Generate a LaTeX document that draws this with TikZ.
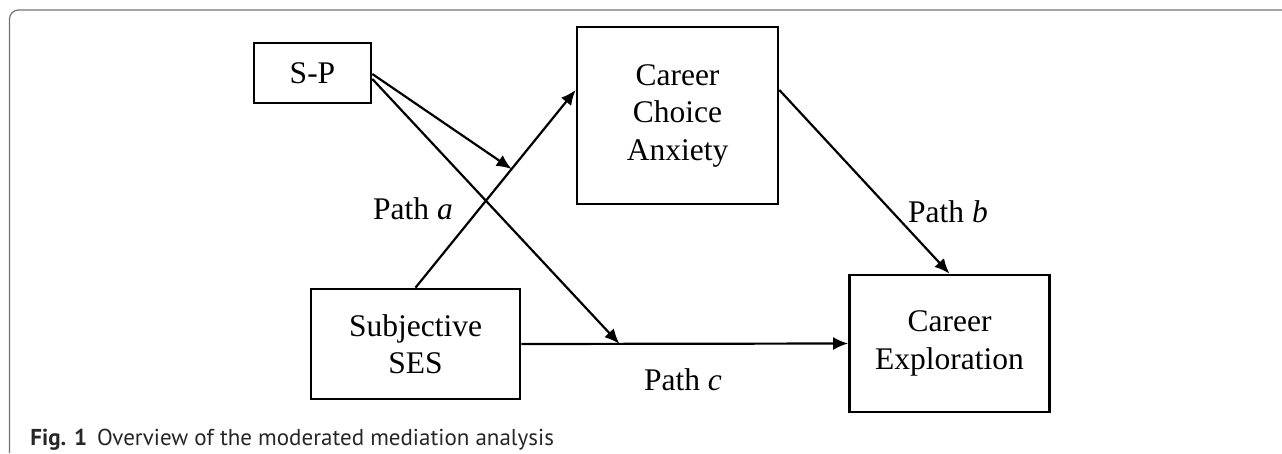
\documentclass[tikz,border=0pt]{standalone}
\usepackage{fontspec}
\setmainfont{Liberation Serif}
\newfontfamily\capfont{PT Sans}
\usetikzlibrary{arrows.meta}

\begin{document}
\begin{tikzpicture}[x=1pt,y=1pt,->,>={Latex[length=15pt,width=13pt]},line width=2.2pt,
  box/.style={rectangle,draw,line width=2.7pt,inner sep=0pt,align=center,
    font=\fontsize{31.5}{37.5}\selectfont},
  path label/.style={font=\fontsize{31.5}{37}\selectfont}]

  \useasboundingbox (0,0) rectangle (1282,-453);
  \draw[-,black!55,line width=1.2pt,rounded corners=9pt] (9.5,-453) -- (9.5,-10) -- (1282,-10);

  \node[box,minimum width=117pt,minimum height=60pt] (sp) at (312.5,-73) {S-P};
  \node[box,minimum width=201pt,minimum height=177pt] (cca) at (677.5,-115.5) {Career\\Choice\\Anxiety};
  \node[box,minimum width=209pt,minimum height=110pt] (ses) at (415.5,-344) {Subjective\\SES};
  \node[box,minimum width=200pt,minimum height=137pt] (ce) at (949.5,-343.5) {Career\\Exploration};

  \node[path label] (pa) at (413,-209) {Path \textit{a}};
  \node[path label] (pb) at (948,-212) {Path \textit{b}};
  \node[path label] (pc) at (683,-380) {Path \textit{c}};

  \draw (ses.north) -- coordinate[pos=0.6] (mod a) ([yshift=25.5pt]cca.west);
  \draw (ses.east) -- coordinate[pos=0.3] (mod c) (ce.west);
  \draw ([yshift=25.5pt]cca.east) -- (ce.north);
  \draw ([yshift=-1pt]sp.east) -- (mod a);
  \draw ([yshift=-6pt]sp.east) -- (mod c);

  \node[anchor=base west,font=\capfont\fontsize{23}{27}\selectfont,text=black!85] (cap) at (26,-445)
    {\textbf{Fig. 1}\hspace{10pt}Overview of the moderated mediation analysis};
\end{tikzpicture}
\end{document}
